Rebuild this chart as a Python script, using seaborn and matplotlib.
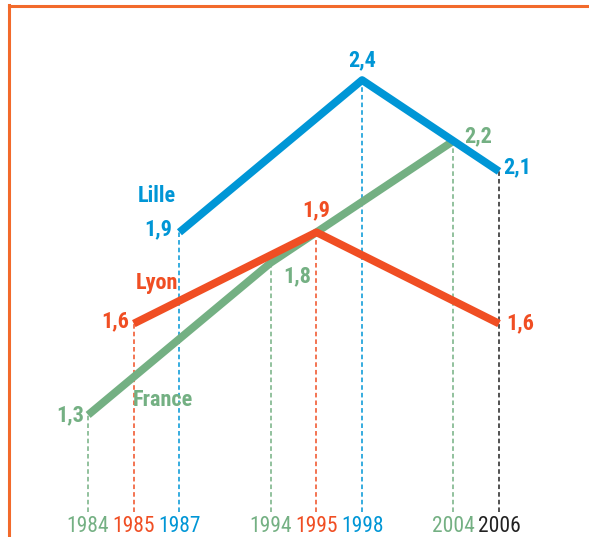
import matplotlib
matplotlib.use("Agg")
import matplotlib.pyplot as plt
from matplotlib.lines import Line2D
from matplotlib import font_manager
import pandas as pd
import seaborn as sns

# Data
series_names = ["France", "Lyon", "Lille"]
france_years = [1984, 1994, 2004]
france_values = [1.3, 1.8, 2.2]
lyon_years = [1985, 1995, 2006]
lyon_values = [1.6, 1.9, 1.6]
lille_years = [1987, 1998, 2006]
lille_values = [1.9, 2.4, 2.1]

colors = {"France": "#74B083", "Lyon": "#F04E23", "Lille": "#0096D6"}
border_color = "#F26A2B"

# schematic x axis: years placed on ordered slots, None = empty slot
axis_slots = [1984, 1985, 1987, None, 1994, 1995, 1998, None, 2004, 2006]
slot_of = {y: i for i, y in enumerate(axis_slots) if y is not None}

df = pd.concat([
    pd.DataFrame({"series": "France", "year": france_years, "value": france_values}),
    pd.DataFrame({"series": "Lyon", "year": lyon_years, "value": lyon_values}),
    pd.DataFrame({"series": "Lille", "year": lille_years, "value": lille_values}),
], ignore_index=True)
df["x"] = df["year"].map(slot_of)

sns.set_theme(style="white")
names = {f.name for f in font_manager.fontManager.ttflist}
narrow = [n for n in ["Liberation Sans Narrow", "Roboto Condensed", "Open Sans Condensed",
                      "DejaVu Sans Condensed", "Roboto"] if n in names]
plt.rcParams["font.family"] = narrow[:1] + ["DejaVu Sans"]
plt.rcParams["font.stretch"] = "condensed"

fig = plt.figure(figsize=(5.89, 5.37), dpi=100)
ax = fig.add_axes([0, 0, 1, 1])
ax.set_xlim(-1.93, 10.97)
ax.set_ylim(0.899, 2.663)
ax.axis("off")

y_base = 0.98

# dashed drop lines, coloured by the series that owns the year
year_color = {}
year_top = {}
for _, r in df.iterrows():
    if r["year"] not in year_top or r["value"] > year_top[r["year"]]:
        year_top[r["year"]] = r["value"]
        year_color[r["year"]] = colors[r["series"]]
shared = df["year"].value_counts()
for yr, n in shared.items():
    if n > 1:
        year_color[yr] = "#222222"

for yr, top in year_top.items():
    ax.vlines(slot_of[yr], y_base, top, colors=year_color[yr],
              linestyles=(0, (3, 2)), linewidth=1.1, zorder=1)
    ax.text(slot_of[yr], 0.9, str(yr), color=year_color[yr],
            ha="center", va="bottom", fontsize=15.5)

sns.lineplot(data=df, x="x", y="value", hue="series", hue_order=series_names,
             palette=colors, linewidth=5.6, legend=False, ax=ax,
             sort=True, zorder=3)
for ln in ax.lines:
    ln.set_solid_capstyle("butt")

def fmt(v):
    return f"{v:.1f}".replace(".", ",")

# value labels: offsets in points from each point
offsets = {
    "France": [(-3, 0, "right", "center"), (9, -10, "left", "center"), (8, 3, "left", "center")],
    "Lyon": [(-3, 2, "right", "center"), (0, 8, "center", "bottom"), (5, 0, "left", "center")],
    "Lille": [(-5, 2, "right", "center"), (0, 6, "center", "bottom"), (3, 3, "left", "center")],
}
for name in series_names:
    sub = df[df["series"] == name].reset_index(drop=True)
    for i, r in sub.iterrows():
        dx, dy, ha, va = offsets[name][i]
        ax.annotate(fmt(r["value"]), (r["x"], r["value"]), xytext=(dx, dy),
                    textcoords="offset points", ha=ha, va=va,
                    color=colors[name], fontsize=16, fontweight="bold", zorder=5)

# series name labels
ax.text(1.5, 2.02, "Lille", color=colors["Lille"], fontsize=16, fontweight="bold",
        ha="center", va="center")
ax.text(1.5, 1.735, "Lyon", color=colors["Lyon"], fontsize=16, fontweight="bold",
        ha="center", va="center")
ax.text(0.98, 1.35, "France", color=colors["France"], fontsize=16, fontweight="bold",
        ha="left", va="center")

# orange frame on top and left
fig.add_artist(Line2D([8.5 / 589, 8.5 / 589], [0, 1 - 5 / 537], transform=fig.transFigure,
                      color=border_color, linewidth=2.2, solid_capstyle="projecting"))
fig.add_artist(Line2D([8.5 / 589, 1], [1 - 5.5 / 537, 1 - 5.5 / 537], transform=fig.transFigure,
                      color=border_color, linewidth=2.2, solid_capstyle="projecting"))

fig.savefig("out.png", dpi=100)
